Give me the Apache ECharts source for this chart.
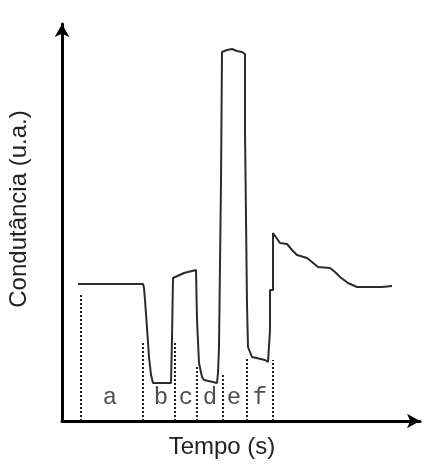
<!DOCTYPE html>
<html>
<head>
<meta charset="utf-8">
<script src="https://cdn.jsdelivr.net/npm/echarts@6/dist/echarts.min.js"></script>
<style>
html,body{margin:0;padding:0;background:#fff;}
#chart{width:430px;height:465px;}
</style>
</head>
<body>
<div id="chart"></div>
<script>
// Conductance trace (time, conductance) in arbitrary units
const traceTime = [16,30,31,32,81,82,83,85,87,89,91,109,110,111,113,122,134,135,137,140,142,151,155,156,157,159,160,160,165,170,175,180,183,183,185,185,186,186,188,190,203,206,208,208,211,211,213,218,225,230,235,245,250,256,268,273,278,286,295,320,321,322,330];
const traceCond = [137,137,135,137,137,133,121,93,64,46,38,38,83,143,144,148,151,101,58,44,41,39,38,48,74,239,239,369,371,372,370,369,367,291,291,116,116,74,69,64,61,59,91,131,131,188,186,178,177,171,166,163,159,154,153,149,144,138,134,134,133,134,135];
// Segment boundaries (time) and dotted marker heights
const boundaryTime = [19,81,113,135,161,185,211];
const boundaryHeight = [126,79,78,54,48,64,61];
// Segment labels
const segLabels = ['a','b','c','d','e','f'];
const segLabelTime = [48,99,124,148,172,198];
const segLabelY = 23;
const xTitle = 'Tempo (s)';
const yTitle = 'Condutância (u.a.)';

const chart = echarts.init(document.getElementById('chart'), null, {renderer:'canvas'});
const trace = traceTime.map((t,i)=>[t,traceCond[i]]);
const bounds = boundaryTime.map((t,i)=>({coords:[[t,0],[t,boundaryHeight[i]]]}));
const labels = segLabels.map((s,i)=>({value:[segLabelTime[i],segLabelY],name:s}));

chart.setOption({
  animation:false,
  backgroundColor:'#fff',
  grid:{left:62,right:10,top:24,bottom:44,containLabel:false},
  xAxis:{type:'value',min:0,max:358,
    axisLine:{show:true,onZero:true,symbol:['none','arrow'],symbolSize:[11,13],lineStyle:{color:'#000',width:3}},
    axisTick:{show:false},axisLabel:{show:false},splitLine:{show:false}},
  yAxis:{type:'value',min:0,max:397,
    axisLine:{show:true,onZero:true,symbol:['none','arrow'],symbolSize:[11,13],lineStyle:{color:'#000',width:3}},
    axisTick:{show:false},axisLabel:{show:false},splitLine:{show:false}},
  graphic:[
    {type:'text',x:222,y:447,style:{text:xTitle,font:'24px "Liberation Sans", Arial, sans-serif',fill:'#222',align:'center',verticalAlign:'middle'}},
    {type:'text',x:19,y:209,rotation:Math.PI/2,style:{text:yTitle,font:'24px "Liberation Sans", Arial, sans-serif',fill:'#222',align:'center',verticalAlign:'middle'}}
  ],
  series:[
    {type:'lines',coordinateSystem:'cartesian2d',silent:true,z:1,
      lineStyle:{color:'#222',width:2,type:[2,2],opacity:1},
      data:bounds},
    {type:'line',data:trace,showSymbol:false,symbol:'none',z:3,silent:true,
      lineStyle:{color:'#2b2b2b',width:2}},
    {type:'scatter',data:labels,symbolSize:1,itemStyle:{color:'rgba(0,0,0,0)'},silent:true,z:4,
      label:{show:true,position:'inside',formatter:p=>p.name,color:'#222',
        fontFamily:'"Liberation Mono", "Courier New", monospace',fontSize:24}}
  ]
});
</script>
</body>
</html>
